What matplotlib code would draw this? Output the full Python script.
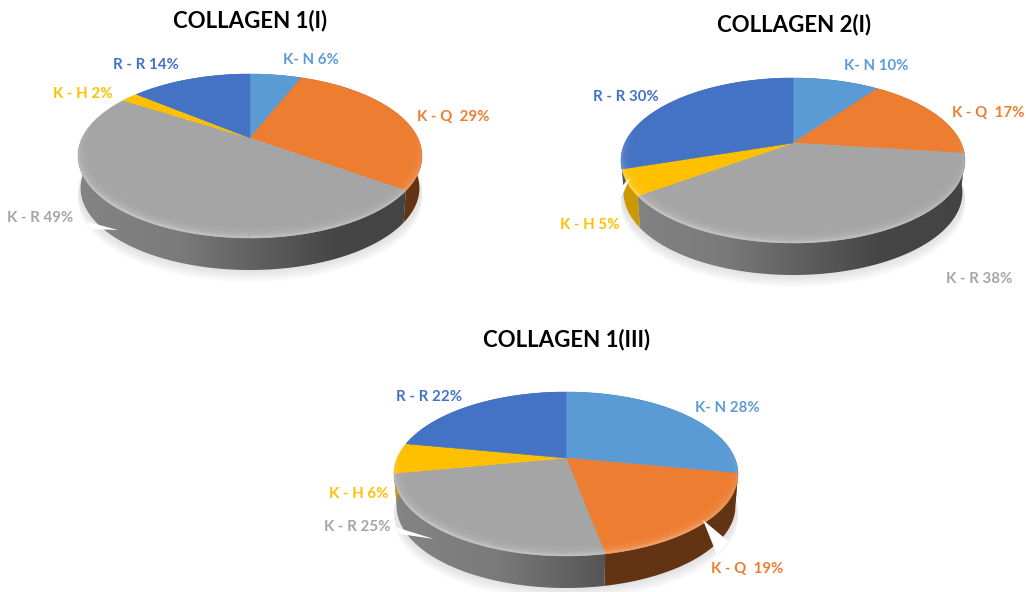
import numpy as np
import matplotlib
matplotlib.use("Agg")
import matplotlib.pyplot as plt
from matplotlib.collections import LineCollection
from matplotlib.colors import to_rgb
from matplotlib.path import Path
from matplotlib.patches import Polygon
from matplotlib.transforms import Transform

plt.rcParams["font.family"] = ["Lato", "DejaVu Sans"]

categories = ["K- N", "K - Q ", "K - R", "K - H", "R - R"]
colors = ["#5B9BD5", "#ED7D31", "#A5A5A5", "#FFC000", "#4472C4"]
titles = ["COLLAGEN 1(I)", "COLLAGEN 2(I)", "COLLAGEN 1(III)"]
values_1 = [6, 29, 49, 2, 14]
values_2 = [10, 17, 38, 5, 30]
values_3 = [28, 19, 25, 6, 22]

# layout in reference pixels: apex x, apex y, half width, above apex, below apex
geometry = [
    (250, 138, 172, 64, 100),
    (793, 143, 172, 65, 100),
    (566, 458, 172, 66, 98),
]
title_xy = [(250, 21), (794, 25), (567, 340)]
label_xy = [
    [(311, 60), (453, 117), (40, 218), (83, 94), (146, 65)],
    [(876, 66), (988, 113), (979, 279), (590, 225), (626, 97)],
    [(727, 408), (747, 569), (357, 527), (359, 494), (429, 397)],
]
# white callout slivers left over in the original
slivers = [
    [(88, 222), (118, 230), (90, 229)],
    [(630, 178), (618, 190), (622, 196)],
    [(395, 527), (434, 539), (400, 534)],
    [(703, 520), (728, 541), (717, 555)],
]
DEPTH = 32


class Tilt(Transform):
    """Perspective view of the unit circle, lying flat, in pixel coordinates."""
    input_dims = output_dims = 2
    has_inverse = False

    def __init__(self, cx, cy, rx, up, down):
        super().__init__()
        self.p = (down - up) / (down + up)
        self.b = up * (1 + self.p)
        self.a = rx * np.sqrt(1 - self.p ** 2)
        self.cx, self.cy = cx, cy

    def transform_non_affine(self, values):
        values = np.asarray(values)
        u, v = values[:, 0], values[:, 1]
        w = 1 + self.p * v
        return np.column_stack([self.cx + self.a * u / w, self.cy - self.b * v / w])

    def transform_path_non_affine(self, path):
        pts = []
        for curve, code in path.iter_bezier():
            if code == Path.MOVETO:
                pts.append(curve.control_points[0])
            else:
                pts.extend(curve(np.linspace(0, 1, 30)))
        return Path(self.transform_non_affine(np.array(pts)))


def circle(theta1, theta2, r=1.0, n=200):
    t = np.radians(np.linspace(theta1, theta2, n))
    return np.column_stack([r * np.cos(t), r * np.sin(t)])


def rim_factor(t, col):
    if col == "#ED7D31":  # the orange side stays one flat brown
        return np.full_like(t, 0.42)
    return np.interp(t, [0, 0.3, 0.55, 0.75, 1], [0.80, 0.74, 0.56, 0.42, 0.41])


def draw_pie(ax, values, geo, labels_at, title, title_at):
    cx, cy, rx, up, down = geo
    tilt = Tilt(cx, cy, rx, up, down)
    wedges, _ = ax.pie(values, colors=colors, startangle=90, counterclock=False)

    # soft shadow under the disc
    ring = tilt.transform_non_affine(circle(0, 360))
    for k in range(2, 13, 2):
        shade = ring + [0, DEPTH + k]
        ax.add_patch(Polygon(shade, fc="#808080", ec="none", alpha=0.035, zorder=0.5))

    for wedge, col in zip(wedges, colors):
        arc = tilt.transform_non_affine(circle(wedge.theta1, wedge.theta2))
        low = arc.copy()
        low[:, 0] = cx + (low[:, 0] - cx) * 0.985
        low[:, 1] += DEPTH
        side = Polygon(np.vstack([arc, low[::-1]]), closed=True, transform=ax.transData)

        xs = np.linspace(0, 1, 256)
        grad = rim_factor(xs, col)[None, :, None] * np.array(to_rgb(col))[None, None, :]
        im = ax.imshow(grad, extent=(cx - rx, cx + rx, cy + down + DEPTH, cy - up),
                       aspect="auto", interpolation="bilinear", zorder=1)
        im.set_clip_path(side)

        wedge.set_transform(tilt + ax.transData)
        wedge.set_edgecolor(col)
        wedge.set_linewidth(0.4)
        wedge.set_zorder(2)

    # light bevel hugging the front edge of the top face, fading inwards
    disc = Polygon(ring, closed=True, transform=ax.transData)
    t = np.radians(np.linspace(150, 390, 240))
    for width, strength in [(14, 0.05), (9, 0.08), (5, 0.13), (2.5, 0.20)]:
        pts = tilt.transform_non_affine(np.column_stack([np.cos(t), np.sin(t)]))
        segs = np.stack([pts[:-1], pts[1:]], axis=1)
        weight = np.clip(-np.sin(t[:-1]) + 0.25, 0, 1) * (1 - 0.45 * (np.cos(t[:-1]) + 1) / 2)
        rgba = np.ones((len(segs), 4))
        rgba[:, 3] = strength * weight
        bevel = LineCollection(segs, colors=rgba, linewidths=width, capstyle="butt", zorder=3)
        ax.add_collection(bevel)
        bevel.set_clip_path(disc)

    for cat, val, col, (x, y) in zip(categories, values, colors, labels_at):
        ax.text(x, y, f"{cat} {val}%", color=col, fontsize=10.8, fontweight="bold",
                ha="center", va="center", zorder=5)
    ax.text(title_at[0], title_at[1], title, color="black", fontsize=16,
            fontweight="bold", ha="center", va="center", zorder=5)


fig = plt.figure(figsize=(10.26, 5.92), dpi=100)
ax = fig.add_axes([0, 0, 1, 1])

all_values = [values_1, values_2, values_3]
for i in range(3):
    draw_pie(ax, all_values[i], geometry[i], label_xy[i], titles[i], title_xy[i])

for tri in slivers:
    ax.add_patch(Polygon(tri, fc="white", ec="none", zorder=4))

ax.set_aspect("auto")
ax.set_xlim(0, 1026)
ax.set_ylim(592, 0)
ax.axis("off")
fig.savefig("out.png", dpi=100, facecolor="white")
